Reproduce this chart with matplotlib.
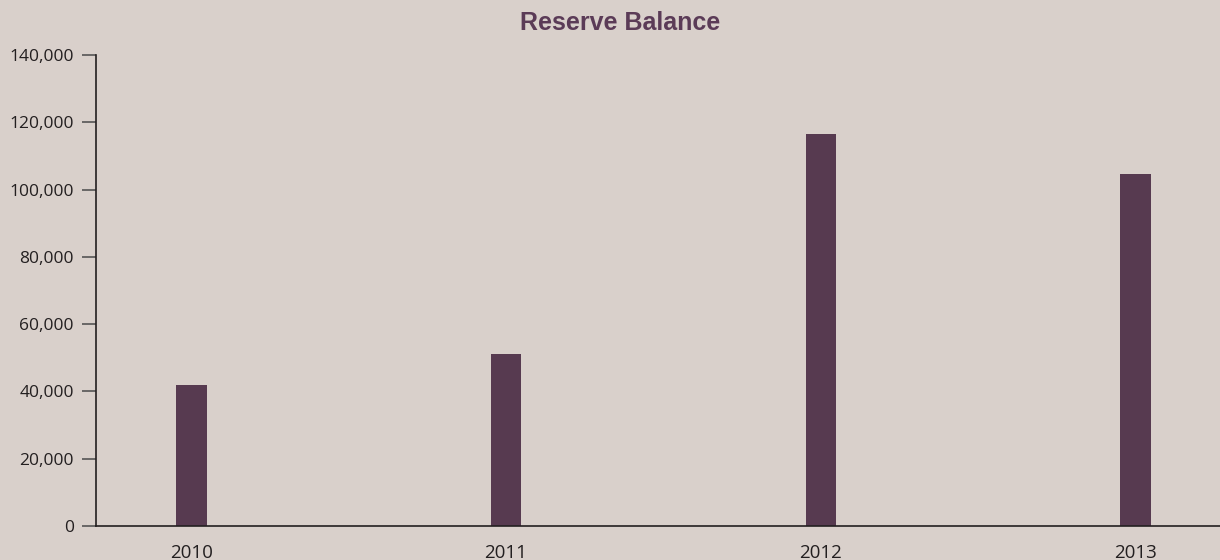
import matplotlib.pyplot as plt
from matplotlib.ticker import FuncFormatter

years = ['2010', '2011', '2012', '2013']
balance = [42000, 51000, 116500, 104600]
yticks = [0, 20000, 40000, 60000, 80000, 100000, 120000, 140000]

BG = '#d9d0cb'
BAR = '#573a50'
TITLE = '#5b3b57'
TEXT = '#231f20'

fig = plt.figure(figsize=(12.2, 5.6), dpi=100, facecolor=BG)
ax = fig.add_axes([96 / 1220, 34 / 560, 1 - 96 / 1220, 471 / 560])
ax.set_facecolor(BG)

x = range(len(years))
ax.bar(x, balance, width=0.098, color=BAR)

ax.set_xlim(-0.302, 3.267)
ax.set_ylim(0, 140000)
ax.set_xticks(list(x))
ax.set_xticklabels(years)
ax.set_yticks(yticks)
ax.yaxis.set_major_formatter(FuncFormatter(lambda v, p: f'{int(v):,}'))

for s in ['top', 'right']:
    ax.spines[s].set_visible(False)
for s in ['left', 'bottom']:
    ax.spines[s].set_color(TEXT)
    ax.spines[s].set_linewidth(1.2)

ax.tick_params(axis='x', length=0, pad=13, labelsize=13.5, labelcolor=TEXT)
ax.tick_params(axis='y', length=10, width=1.2, color='#555555', pad=6,
               labelsize=12.5, labelcolor=TEXT)
for lab in ax.get_xticklabels() + ax.get_yticklabels():
    lab.set_fontfamily('Open Sans')

fig.text(620 / 1220, 1 - 23 / 560, 'Reserve Balance', ha='center', va='center',
         fontsize=18, fontweight='bold', color=TITLE, family='Liberation Sans')

fig.savefig('out.png', dpi=100, facecolor=BG)
